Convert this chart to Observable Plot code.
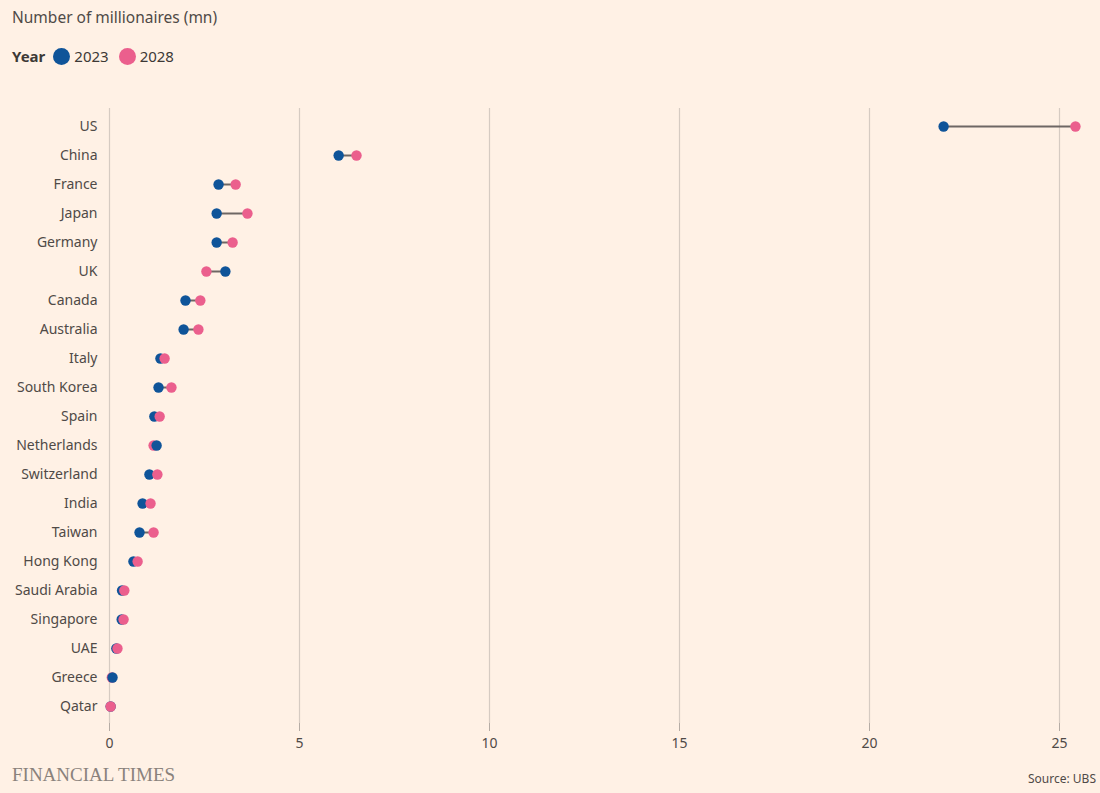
<!DOCTYPE html>
<html>
<head>
<meta charset="utf-8">
<script src="https://cdn.jsdelivr.net/npm/d3@7"></script>
<script src="https://cdn.jsdelivr.net/npm/@observablehq/plot@0.6"></script>
<style>
  html, body { margin: 0; padding: 0; background: #FFF1E5; width: 1100px; height: 793px; overflow: hidden; }
  body { position: relative; font-family: "Noto Sans", "Open Sans", sans-serif; color: #4f4a47; }
  #title { position: absolute; left: 12px; top: 6px; font-size: 15.5px; color: #4f4a47; }
  #legend { position: absolute; left: 12px; top: 46px; font-size: 15px; display: flex; align-items: center; color: #3d3936; }
  #legend b { margin-right: 8px; }
  .sw { display: inline-block; width: 17px; height: 17px; border-radius: 50%; margin-right: 4px; }
  .item { display: flex; align-items: center; margin-right: 10px; }
  #chart { position: absolute; left: 0; top: 100px; }
  #ft { position: absolute; left: 12px; top: 764px; font-family: "Liberation Serif", "DejaVu Serif", serif; font-size: 19px; color: #8a827c; }
  #source { position: absolute; right: 4px; top: 770px; font-size: 12px; color: #4f4a47; white-space: nowrap; }
</style>
</head>
<body>
<div id="title">Number of millionaires (mn)</div>
<div id="legend"><b>Year</b>
  <span class="item"><span class="sw" style="background:#0f5499"></span>2023</span>
  <span class="item"><span class="sw" style="background:#eb5f8d"></span>2028</span>
</div>
<div id="chart"></div>
<div id="ft">FINANCIAL TIMES</div>
<div id="source">Source: UBS</div>
<script>
const countries = ["US","China","France","Japan","Germany","UK","Canada","Australia","Italy","South Korea","Spain","Netherlands","Switzerland","India","Taiwan","Hong Kong","Saudi Arabia","Singapore","UAE","Greece","Qatar"];
const values2023 = [21.95,6.03,2.87,2.82,2.82,3.05,2.0,1.95,1.34,1.29,1.18,1.24,1.05,0.87,0.79,0.63,0.33,0.32,0.18,0.08,0.03];
const values2028 = [25.42,6.5,3.32,3.63,3.24,2.55,2.39,2.34,1.45,1.63,1.32,1.16,1.26,1.08,1.16,0.74,0.39,0.37,0.21,0.06,0.03];
const years = ["2023","2028"];
const xTicks = [0,5,10,15,20,25];

const pairs = countries.map((c, i) => ({country: c, v2023: values2023[i], v2028: values2028[i]}));
const points = [];
countries.forEach((c, i) => {
  points.push({country: c, year: years[0], value: values2023[i]});
  points.push({country: c, year: years[1], value: values2028[i]});
});
points.sort((a, b) => a.value - b.value);

const chart = Plot.plot({
  width: 1100,
  height: 660,
  marginLeft: 109,
  marginRight: 41,
  marginTop: 8,
  marginBottom: 37,
  style: {background: "transparent", fontFamily: "'Noto Sans', sans-serif", fontSize: "14px", color: "#4f4a47"},
  x: {domain: [0, 25], ticks: xTicks, label: null},
  y: {type: "point", domain: countries, padding: 0.55, label: null},
  color: {domain: years, range: ["#0f5499", "#eb5f8d"]},
  marks: [
    Plot.ruleX(xTicks, {stroke: "#d6cbc2", strokeWidth: 1.2}),
    Plot.axisX({ticks: xTicks, tickSize: 8, tickPadding: 7, stroke: "#b5aca5", fontSize: 14, label: null}),
    Plot.axisY({tickSize: 0, tickPadding: 12, fontSize: 14, label: null}),
    Plot.link(pairs, {x1: "v2023", x2: "v2028", y1: "country", y2: "country", stroke: "#6e6764", strokeWidth: 2}),
    Plot.dot(points, {x: "value", y: "country", fill: "year", r: 5.2})
  ]
});
document.getElementById("chart").appendChild(chart);
</script>
</body>
</html>
